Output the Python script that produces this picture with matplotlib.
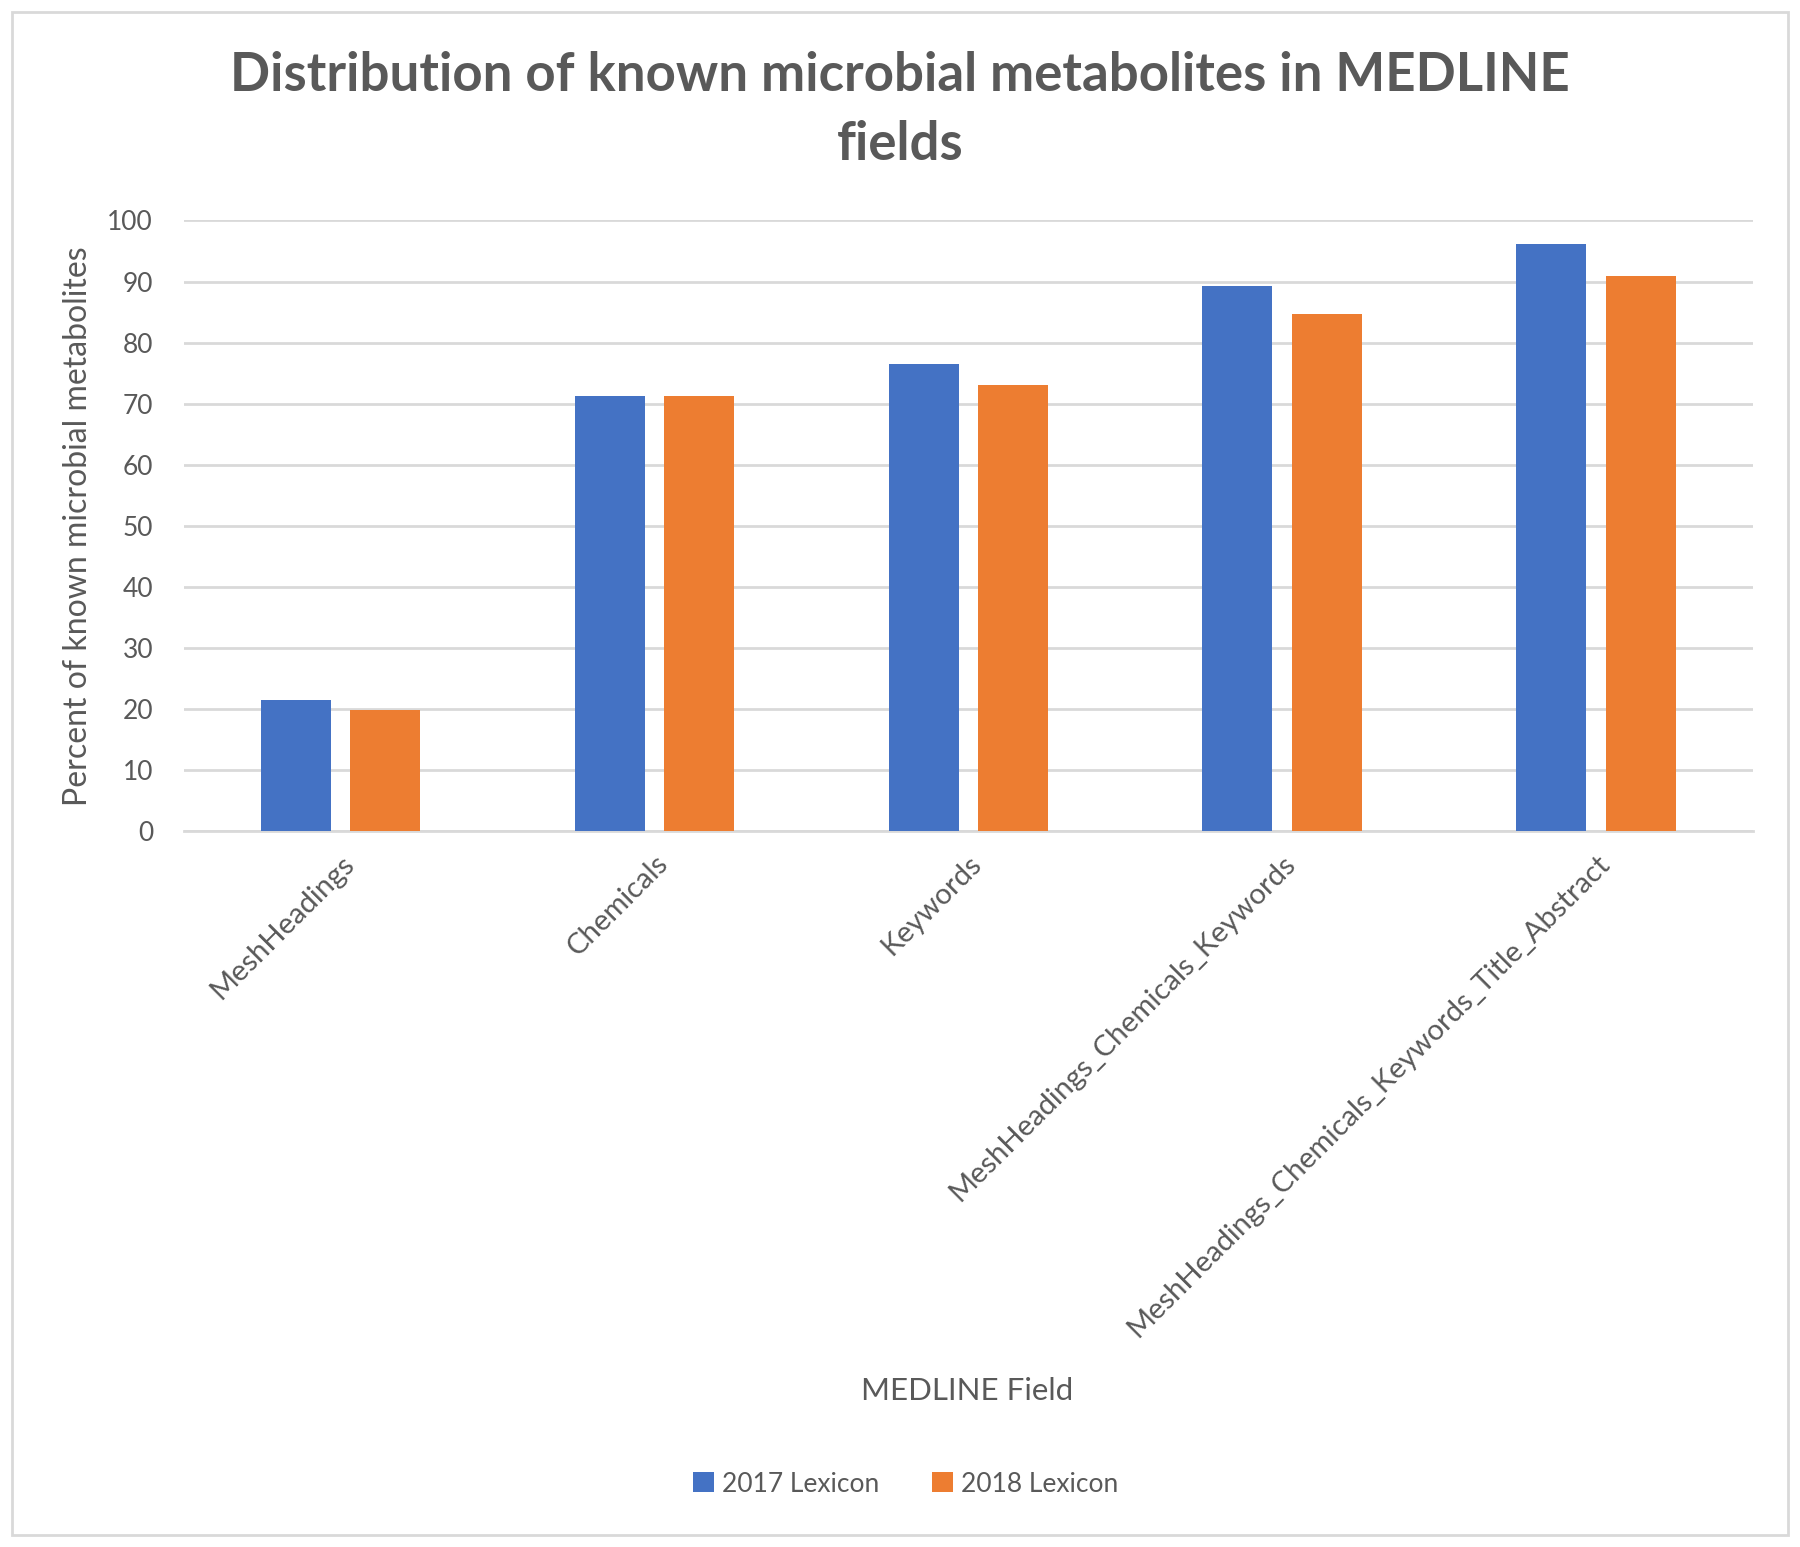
import matplotlib
matplotlib.use("Agg")
import matplotlib.pyplot as plt
from matplotlib.patches import Rectangle
import numpy as np

categories = ["MeshHeadings", "Chemicals", "Keywords",
              "MeshHeadings_Chemicals_Keywords",
              "MeshHeadings_Chemicals_Keywords_Title_Abstract"]
series_names = ["2017 Lexicon", "2018 Lexicon"]
values_2017 = [21.5, 71.3, 76.5, 89.3, 96.1]
values_2018 = [19.8, 71.3, 73.0, 84.6, 90.9]
yticks = [0, 10, 20, 30, 40, 50, 60, 70, 80, 90, 100]

title = "Distribution of known microbial metabolites in MEDLINE\nfields"
xlabel = "MEDLINE Field"
ylabel = "Percent of known microbial metabolites"

plt.rcParams['font.family'] = ['Lato', 'DejaVu Sans']
text_color = "#595959"

fig = plt.figure(figsize=(18, 15.47), dpi=100)
ax = fig.add_axes([0.102, 0.4628, 0.872, 0.3947])

x = np.arange(len(categories))
w = 0.223
off = 0.143
ax.bar(x - off, values_2017, width=w, color="#4472C4", label=series_names[0], zorder=3)
ax.bar(x + off, values_2018, width=w, color="#ED7D31", label=series_names[1], zorder=3)

ax.set_xlim(-0.5, len(categories) - 0.5)
ax.set_ylim(0, 100)
ax.set_yticks(yticks)
ax.set_yticklabels([str(v) for v in yticks], fontsize=19, color=text_color)
ax.yaxis.grid(True, color="#D9D9D9", linewidth=2, zorder=0)
ax.tick_params(axis='y', length=0, pad=22)
ax.tick_params(axis='x', length=0, pad=14)
ax.set_xticks(x)
ax.set_xticklabels(categories, rotation=45, ha='right', rotation_mode='anchor',
                   fontsize=21, color=text_color)
for s in ["top", "right", "left"]:
    ax.spines[s].set_visible(False)
ax.spines["bottom"].set_color("#D9D9D9")
ax.spines["bottom"].set_linewidth(2)

ax.set_ylabel(ylabel, fontsize=23, color=text_color, labelpad=10)

fig.text(0.5375, 1 - 1391 / 1547, xlabel, ha='center', va='center', fontsize=22.5, color=text_color)
fig.text(0.5, 1 - 110 / 1547, title, ha='center', va='center', fontsize=38,
         fontweight='bold', color=text_color, linespacing=1.5)

leg = fig.legend(loc='center', bbox_to_anchor=(0.503, 1 - 1484 / 1547), ncol=2,
                 frameon=False, fontsize=19, handlelength=0.8, handleheight=0.8,
                 handletextpad=0.3, columnspacing=2.0)
for t in leg.get_texts():
    t.set_color(text_color)

fig.patches.append(Rectangle((11.5 / 1800, 12 / 1547), (1788 - 11.5) / 1800, (1535 - 12) / 1547,
                             transform=fig.transFigure, fill=False,
                             edgecolor="#D9D9D9", linewidth=2))

fig.savefig("out.png", dpi=100)
